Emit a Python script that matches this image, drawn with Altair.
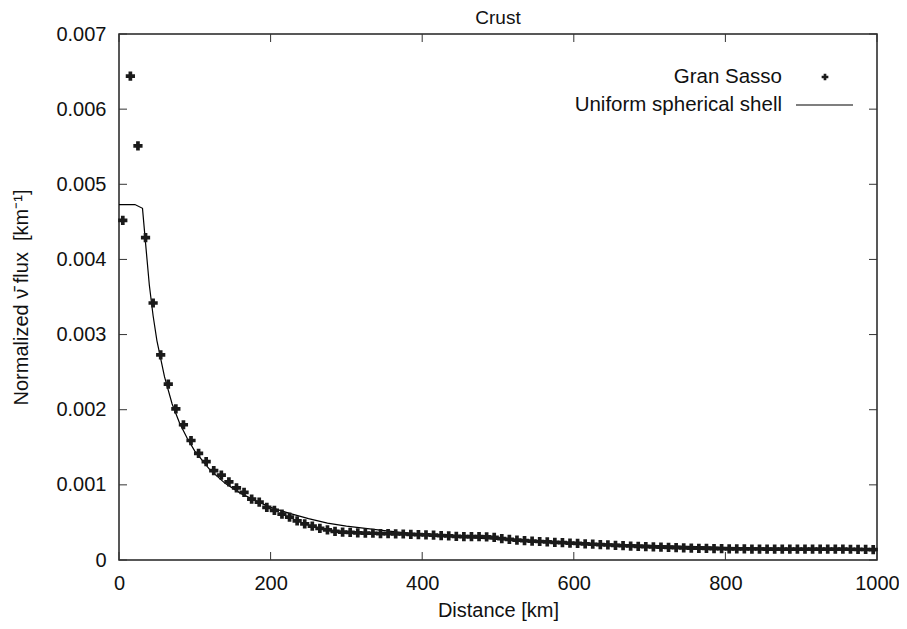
import altair as alt
import pandas as pd

# ---------------- data ----------------
chart_title = ["Crust"]
x_ticks = [0, 200, 400, 600, 800, 1000]
y_ticks = [0, 0.001, 0.002, 0.003, 0.004, 0.005, 0.006, 0.007]

gs_km = list(range(5, 1000, 10))
gs_flux = [
    0.00452, 0.00644, 0.00551, 0.00429, 0.00342, 0.00273, 0.00234, 0.00201, 0.00180, 0.00159,
    0.00142, 0.00131, 0.00119, 0.00113, 0.00104, 0.00096, 0.00090, 0.00081, 0.00077, 0.00070,
    0.00066, 0.00061, 0.00057, 0.00052, 0.00048, 0.00045, 0.00042, 0.00040, 0.00038, 0.00037,
    0.000368, 0.000362, 0.000358, 0.000356, 0.000352, 0.000350, 0.000348, 0.000346, 0.000342, 0.000338,
    0.000334, 0.000330, 0.000325, 0.000320, 0.000315, 0.000312, 0.000310, 0.000310, 0.000308, 0.000300,
    0.000285, 0.000274, 0.000265, 0.000258, 0.000252, 0.000246, 0.000240, 0.000235, 0.000230, 0.000225,
    0.000220, 0.000215, 0.000210, 0.000205, 0.000200, 0.000195, 0.000190, 0.000186, 0.000182, 0.000178,
    0.000174, 0.000170, 0.000167, 0.000164, 0.000161, 0.000158, 0.000156, 0.000154, 0.000152, 0.000150,
    0.000149, 0.000148, 0.000147, 0.000146, 0.000146, 0.000145, 0.000145, 0.000145, 0.000145, 0.000145,
    0.000145, 0.000145, 0.000145, 0.000145, 0.000145, 0.000144, 0.000143, 0.000142, 0.000140, 0.000138,
]

shell_km = [0, 21, 31, 35, 40, 45, 50, 60, 70, 80, 90, 100, 120, 140, 160, 180, 200, 225, 250,
            275, 300, 325, 350, 375, 400, 450, 500, 550, 600, 650, 700, 750, 800, 850, 900, 950, 1000]
shell_flux = [0.00473, 0.00473, 0.00468, 0.00422, 0.00366, 0.00325, 0.00292, 0.00244, 0.00208,
              0.00182, 0.00162, 0.00145, 0.00120, 0.00102, 0.00089, 0.00079, 0.00070, 0.00062,
              0.00055, 0.00049, 0.00045, 0.00042, 0.00039, 0.000365, 0.00034, 0.000305, 0.000275,
              0.00025, 0.000228, 0.00021, 0.000195, 0.00018, 0.000168, 0.000158, 0.00015,
              0.000142, 0.000135]

legend_labels = ["Gran Sasso", "Uniform spherical shell"]

# ---------------- layout ----------------
W, H = 758, 526
FONT = "Liberation Sans"
FS = 20
INK = "#111111"
TICK = 8

pts = pd.DataFrame({"km": gs_km, "flux": gs_flux})
shell = pd.DataFrame({"km": shell_km, "flux": shell_flux})
xt = pd.DataFrame({"v": x_ticks})
yt = pd.DataFrame({"v": y_ticks})

xscale = alt.Scale(domain=[0, 1000], nice=False, zero=False)
yscale = alt.Scale(domain=[0, 0.007], nice=False)

xaxis = alt.Axis(values=x_ticks, format="d", ticks=False, domain=False, grid=False,
                 labelFlush=False, labelPadding=13, title="Distance [km]", titlePadding=7)
yaxis = alt.Axis(values=y_ticks, labelExpr="datum.value == 0 ? '0' : format(datum.value, '.3f')",
                 ticks=False, domain=False, grid=False, labelFlush=False, labelPadding=13,
                 title="Normalized ν̄ flux \u00a0[km⁻¹]", titlePadding=24)

line = alt.Chart(shell).mark_line(color="black", strokeWidth=1.2).encode(
    x=alt.X("km:Q", scale=xscale, axis=xaxis),
    y=alt.Y("flux:Q", scale=yscale, axis=yaxis),
)

points = alt.Chart(pts).mark_point(shape="cross", filled=True, size=85, color="#1a1a1a",
                                   opacity=1).encode(
    x=alt.X("km:Q", scale=xscale),
    y=alt.Y("flux:Q", scale=yscale),
)

tick_style = dict(color="#333333", strokeWidth=1)
bottom_ticks = alt.Chart(xt).mark_rule(**tick_style).encode(
    x=alt.X("v:Q", scale=xscale), y=alt.value(H), y2=alt.value(H - TICK))
top_ticks = alt.Chart(xt).mark_rule(**tick_style).encode(
    x=alt.X("v:Q", scale=xscale), y=alt.value(0), y2=alt.value(TICK))
left_ticks = alt.Chart(yt).mark_rule(**tick_style).encode(
    y=alt.Y("v:Q", scale=yscale), x=alt.value(0), x2=alt.value(TICK))
right_ticks = alt.Chart(yt).mark_rule(**tick_style).encode(
    y=alt.Y("v:Q", scale=yscale), x=alt.value(W), x2=alt.value(W - TICK))

# title as text above the frame
title_df = pd.DataFrame({"t": chart_title})
title_mark = alt.Chart(title_df).mark_text(align="center", baseline="middle", font=FONT,
                                           fontSize=19, color=INK).encode(
    text="t:N", x=alt.value(W / 2), y=alt.value(-16))

# legend (gnuplot style: text left of sample)
lg0 = pd.DataFrame({"label": [legend_labels[0]]})
lg1 = pd.DataFrame({"label": [legend_labels[1]]})
leg_text0 = alt.Chart(lg0).mark_text(align="right", baseline="middle", font=FONT, fontSize=20.5,
                                     color=INK).encode(
    text="label:N", x=alt.value(663), y=alt.value(43))
leg_text1 = alt.Chart(lg1).mark_text(align="right", baseline="middle", font=FONT, fontSize=20.5,
                                     color=INK).encode(
    text="label:N", x=alt.value(663), y=alt.value(71))
leg_sym = alt.Chart(lg0).mark_point(shape="cross", filled=True, size=45, color="#1a1a1a",
                                    opacity=1).encode(
    x=alt.value(706), y=alt.value(43))
leg_line = alt.Chart(lg1).mark_rule(color="black", strokeWidth=1.2).encode(
    x=alt.value(677), x2=alt.value(734), y=alt.value(71))

chart = alt.layer(
    line, points, bottom_ticks, top_ticks, left_ticks, right_ticks,
    title_mark, leg_text0, leg_text1, leg_sym, leg_line,
).properties(
    width=W, height=H,
    background="white",
    autosize=alt.AutoSizeParams(type="none"),
    padding={"left": 111, "top": 26, "right": 22, "bottom": 61},
).configure_view(
    stroke="#222222", strokeWidth=1.5,
).configure_axis(
    labelFont=FONT, labelFontSize=FS, labelColor=INK,
    titleFont=FONT, titleFontSize=FS, titleFontWeight="normal", titleColor=INK,
)

chart.save("out.html", embed_options={"renderer": "svg", "actions": False})
